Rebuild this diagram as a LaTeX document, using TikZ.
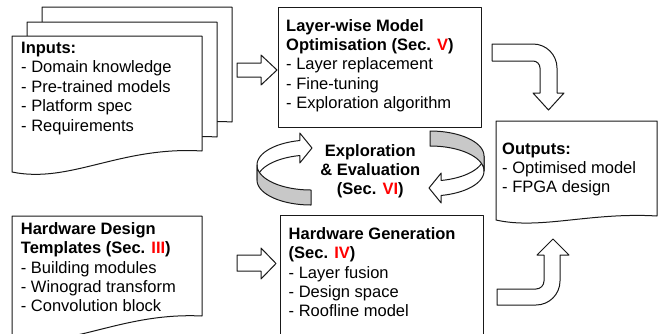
\documentclass[tikz,border=0pt]{standalone}
\usepackage{fontspec}
\setmainfont{Liberation Sans}
\definecolor{secred}{RGB}{255,0,0}
\definecolor{bandgray}{RGB}{200,200,200}
\definecolor{edge}{RGB}{25,25,25}
\begin{document}
\begin{tikzpicture}[x=1pt,y=-1pt,
  shapeline/.style={draw=edge, line width=1pt, fill=white, line join=round},
  txt/.style={anchor=base west, inner sep=0pt, align=left, font=\fontsize{16.5}{19.4}\selectfont},
  ctxt/.style={anchor=base, inner sep=0pt, align=center, font=\fontsize{16.5}{19.4}\selectfont\bfseries},
]
\useasboundingbox (0,0) rectangle (659,333);
\clip (0,0) rectangle (659,333);

% ---- Inputs: stacked documents
\path[shapeline] (42,7) -- (232,7) -- (232,122) .. controls (150,117) and (100,155) .. (42,143) -- cycle;
\path[shapeline] (27,22) -- (217,22) -- (217,137) .. controls (135,132) and (85,170) .. (27,158) -- cycle;
\path[shapeline] (12,36) -- (202,36) -- (202,151) .. controls (120,146) and (70,184) .. (12,172) -- cycle;
% (base anchor of a multi-line node = baseline of its last line)
\node[txt] (inputs) at (21,131.1) {\textbf{Inputs:}\\- Domain knowledge\\- Pre-trained models\\- Platform spec\\- Requirements};

% ---- Hardware design templates document
\path[shapeline] (12,216) -- (202,216) -- (202,316) .. controls (120,312) and (70,350) .. (12,338) -- cycle;
\node[txt] (hdt) at (20.7,311.9) {\textbf{Hardware Design}\\\textbf{Templates (Sec. \textcolor{secred}{III})}\\- Building modules\\- Winograd transform\\- Convolution block};

% ---- Layer-wise model optimisation box
\path[shapeline] (278,7) rectangle (481,127);
\node[txt] (lmo) at (286,108.6) {\textbf{Layer-wise Model}\\\textbf{Optimisation (Sec. \textcolor{secred}{V})}\\- Layer replacement\\- Fine-tuning\\- Exploration algorithm};

% ---- Hardware generation box
\path[shapeline] (280,215) rectangle (483,345);
\node[txt] (hwg) at (288.5,316.9) {\textbf{Hardware Generation}\\\textbf{(Sec. \textcolor{secred}{IV})}\\- Layer fusion\\- Design space\\- Roofline model};

% ---- Outputs document
\path[shapeline] (496,121) -- (657,121) -- (657,216) .. controls (590,212) and (540,230) .. (496,220) -- cycle;
\node[txt] (outputs) at (502,192.8) {\textbf{Outputs:}\\- Optimised model\\- FPGA design};

% ---- Exploration & evaluation
\node[ctxt] (explo) at (370.3,194.8) {Exploration\\\& Evaluation\\(Sec. \textcolor{secred}{VI})};

% ---- straight block arrows
\path[shapeline] (237,63) -- (261,63) -- (261,55) -- (277,70) -- (261,85) -- (261,77) -- (237,77) -- cycle;
\path[shapeline] (237,255) -- (261,255) -- (261,248) -- (276,263.5) -- (261,279) -- (261,271) -- (237,271) -- cycle;

% ---- bent block arrows
\path[shapeline] (492,44) -- (533,44) arc[start angle=-90, end angle=0, radius=24] -- (557,93) -- (564,93) -- (548.5,110) -- (533,93) -- (540,93) -- (540,68) arc[start angle=0, end angle=-90, radius=7] -- (492,61) -- cycle;
\path[shapeline] (497,289) -- (536,289) arc[start angle=90, end angle=0, radius=8] -- (544,255) -- (537,255) -- (553,239) -- (569,255) -- (560,255) -- (560,281) arc[start angle=0, end angle=90, radius=24] -- (497,305) -- cycle;

% ---- circular ribbon arrows
\foreach \rot in {0,180}{
\begin{scope}[rotate around={\rot:(370.5,168)}]
\path[shapeline] plot[domain=180:258,samples=40] ({311+54*cos(\x)},{165+25*sin(\x)}) -- (299.8,133) -- (312,148) -- (299.8,163) -- plot[domain=258:180,samples=40] ({311+54*cos(\x)},{180+25*sin(\x)}) -- cycle;
\path[shapeline, fill=bandgray] plot[domain=180:90,samples=40] ({311+54*cos(\x)},{165+25*sin(\x)}) -- plot[domain=90:180,samples=40] ({311+54*cos(\x)},{180+25*sin(\x)}) -- cycle;
\end{scope}
}
\end{tikzpicture}
\end{document}
